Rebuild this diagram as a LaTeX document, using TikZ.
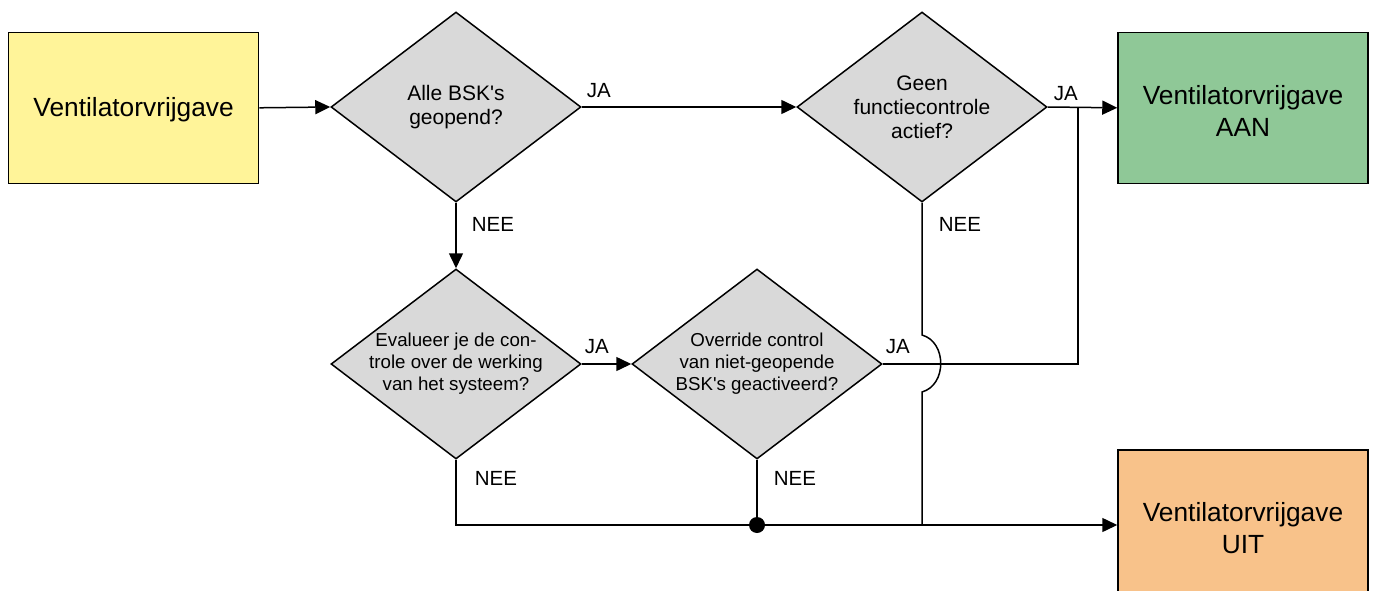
\documentclass[tikz,border=0pt]{standalone}
\usepackage{fontspec}
\setmainfont{Liberation Sans}[Ligatures=TeXOff]
\usetikzlibrary{shapes.geometric,arrows.meta,calc}
\definecolor{yelfill}{HTML}{FFF499}
\definecolor{grnfill}{HTML}{8FC897}
\definecolor{orgfill}{HTML}{F8C28A}
\definecolor{dgray}{HTML}{D9D9D9}
\tikzset{
  basebox/.style={draw=black, line width=1.5pt, minimum width=250pt, minimum height=151pt, inner sep=0pt, align=center},
  boxtxt/.style={align=center, font=\fontsize{26.3}{31.6}\selectfont, inner sep=0pt},
  decision/.style={draw=black, fill=dgray, line width=1.5pt, shape=diamond, minimum width=250pt, minimum height=190pt, inner sep=0pt},
  bigtxt/.style={align=center, font=\fontsize{21}{24}\selectfont, inner sep=0pt},
  smalltxt/.style={align=center, font=\fontsize{18.7}{22}\selectfont, inner sep=0pt},
  lbl/.style={font=\fontsize{20.5}{24}\selectfont, inner sep=0pt},
  conn/.style={line width=1.5pt, draw=black},
  arr/.style={conn, -{Triangle[length=15pt, width=14pt]}},
}
\begin{document}
\begin{tikzpicture}[x=1pt, y=-1pt]
\clip (0,0) rectangle (1373,591);
\fill[white] (0,0) rectangle (1373,591);

% boxes
\node[basebox, fill=yelfill, label={[boxtxt, yshift=-2pt]center:{Ventilatorvrijgave}}] (start) at (133.6,107.8) {};
\node[basebox, fill=grnfill, label={[boxtxt, yshift=-3pt]center:{Ventilatorvrijgave\\AAN}}] (aan) at (1243,107.8) {};
\node[basebox, fill=orgfill, minimum height=150pt, label={[boxtxt, yshift=-3pt]center:{Ventilatorvrijgave\\UIT}}] (uit) at (1243,525) {};

% decisions
\node[decision, label={[bigtxt]center:{Alle BSK's\\geopend?}}] (d1) at (456,107) {};
\node[decision, label={[bigtxt]center:{Geen\\functiecontrole\\actief?}}] (d2) at (922,107) {};
\node[decision, label={[smalltxt]center:{Evalueer je de con-\\trole over de werking\\van het systeem?}}] (d3) at (456,364) {};
\node[decision, label={[smalltxt]center:{Override control\\van niet-geopende\\BSK's geactiveerd?}}] (d4) at (757,364) {};

% helper coordinates
\coordinate (joinA) at (1078,107);
\coordinate (joinB) at (d2.south |- uit.west);
\coordinate (dot) at (d4.south |- uit.west);
\coordinate (jumpTop) at (922,335);
\coordinate (jumpBot) at (922,392);

% connectors
\draw[arr] (start.east) -- (d1.west);
\draw[arr] (d1.east) -- (d2.west)
  node[lbl, at start, anchor=center, xshift=17pt, yshift=16pt] {JA};
\draw[arr] (d2.east) -- (aan.west)
  node[lbl, at start, anchor=center, xshift=18pt, yshift=13pt] {JA};
\draw[arr] (d1.south) -- (d3.north)
  node[lbl, at start, anchor=center, xshift=37pt, yshift=-22pt] {NEE};
\draw[arr] (d3.east) -- (d4.west)
  node[lbl, at start, anchor=center, xshift=15pt, yshift=17pt] {JA};
\draw[conn] (d4.east) -| (joinA)
  node[lbl, at start, anchor=center, xshift=15pt, yshift=17pt] {JA};
\draw[conn] (d2.south) -- (jumpTop) .. controls (947,342) and (947,385) .. (jumpBot) -- (joinB);
\node[lbl] at ([shift={(38,22)}]d2.south) {NEE};
\draw[arr] (d3.south) |- (uit.west)
  node[lbl, at start, anchor=center, xshift=40pt, yshift=-19pt] {NEE};
\draw[conn] (d4.south) -- (dot)
  node[lbl, at start, anchor=center, xshift=38pt, yshift=-19pt] {NEE};
\fill[black] (dot) circle (8pt);
\end{tikzpicture}
\end{document}
